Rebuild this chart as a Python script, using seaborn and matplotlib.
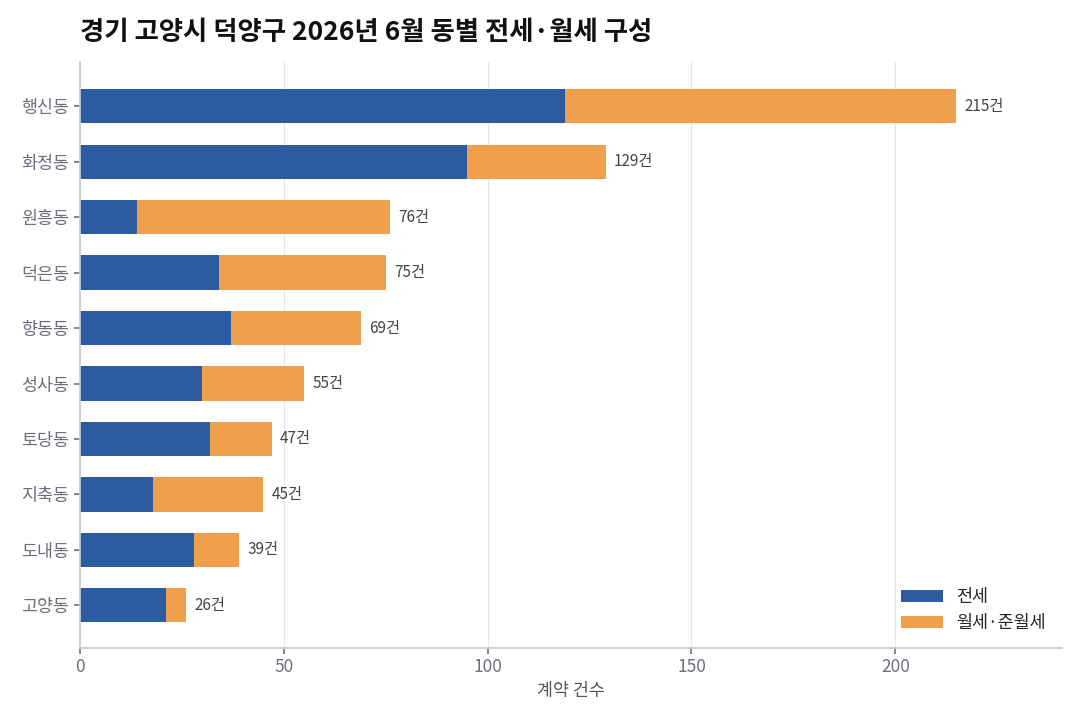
import matplotlib
matplotlib.use("Agg")
import matplotlib.pyplot as plt
import seaborn as sns
import pandas as pd

dongs = ["행신동", "화정동", "원흥동", "덕은동", "향동동", "성사동", "토당동", "지축동", "도내동", "고양동"]
jeonse = [119, 95, 14, 34, 37, 30, 32, 18, 28, 21]
totals = [215, 129, 76, 75, 69, 55, 47, 45, 39, 26]
wolse = [t - j for t, j in zip(totals, jeonse)]

sns.set_theme(style="white")
plt.rcParams['font.family'] = ['Noto Sans CJK KR', 'DejaVu Sans']

BLUE = "#2B5BA1"
ORANGE = "#F0A04B"

df = pd.DataFrame({"dong": dongs, "jeonse": jeonse, "total": totals, "wolse": wolse})

fig, ax = plt.subplots(figsize=(10.8, 7.2), dpi=100)
fig.subplots_adjust(left=0.074, right=0.983, top=0.914, bottom=0.1)

sns.barplot(data=df, y="dong", x="total", color=ORANGE, orient="h", width=0.62,
            saturation=1, ax=ax, label="월세·준월세", order=dongs, linewidth=0)
sns.barplot(data=df, y="dong", x="jeonse", color=BLUE, orient="h", width=0.62,
            saturation=1, ax=ax, label="전세", order=dongs, linewidth=0)

for i, t in enumerate(totals):
    ax.text(t + 2, i, f"{t}건", va="center", ha="left", fontsize=11, color="#444444")

ax.set_xlim(0, max(totals) * 1.12)
ax.set_ylim(9.77, -0.8)
ax.set_xticks([0, 50, 100, 150, 200])
ax.set_xlabel("계약 건수", fontsize=12.5, color="#555555")
ax.set_ylabel("")
ax.xaxis.grid(True, color="#E6E6E6", linewidth=0.8)
ax.set_axisbelow(True)
for s in ["top", "right"]:
    ax.spines[s].set_visible(False)
for s in ["left", "bottom"]:
    ax.spines[s].set_color("#C8CCD4")
ax.tick_params(axis="both", colors="#777777", labelcolor="#6b6e7c", labelsize=12.5, length=4,
               left=True, bottom=True)

handles, labels = ax.get_legend_handles_labels()
order = [labels.index("전세"), labels.index("월세·준월세")]
ax.legend([handles[k] for k in order], [labels[k] for k in order], loc="lower right",
          frameon=False, fontsize=12.5, handlelength=2.4)

fig.text(0.074, 0.955, "경기 고양시 덕양구 2026년 6월 동별 전세·월세 구성", fontsize=19,
         fontweight="bold", ha="left", va="center", color="#111111")

fig.savefig("out.png", dpi=100)
